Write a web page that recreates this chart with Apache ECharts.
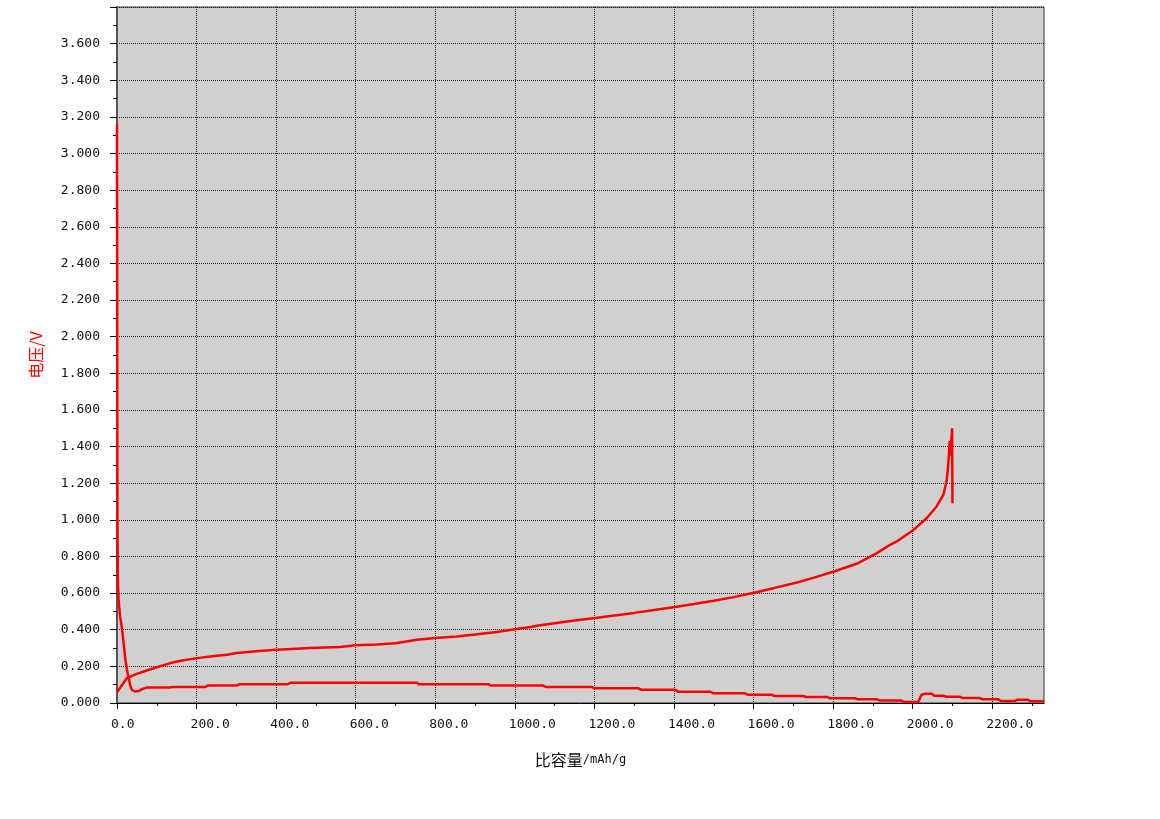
<!DOCTYPE html>
<html>
<head>
<meta charset="utf-8">
<script src="https://cdn.jsdelivr.net/npm/echarts@6/dist/echarts.min.js"></script>
<style>
html,body{margin:0;padding:0;background:#fff;}
#c{width:1160px;height:819px;}
</style>
</head>
<body>
<div id="c"></div>
<script>
// tick values
const xMajorTicks = [0,200,400,600,800,1000,1200,1400,1600,1800,2000,2200];
const xMinorTicks = [100,300,500,700,900,1100,1300,1500,1700,1900,2100,2300];

// discharge curve (capacity mAh/g, voltage V)
const dischargeX = [0,1,2,4,8,13,17,21,25,29,34,38,45,55,62,75,134,140,222,228,301,308,429,436,754,760,934,940,1071,1078,1193,1200,1311,1318,1403,1410,1491,1498,1579,1586,1646,1653,1725,1732,1784,1791,1855,1862,1910,1917,1972,1979,2014,2022,2030,2048,2054,2077,2084,2119,2126,2169,2176,2215,2222,2257,2263,2290,2296,2330];
const dischargeY = [3.16,1.05,0.69,0.56,0.47,0.40,0.32,0.24,0.18,0.14,0.09,0.07,0.063,0.065,0.075,0.084,0.085,0.088,0.088,0.095,0.095,0.103,0.103,0.110,0.110,0.102,0.102,0.095,0.095,0.088,0.088,0.080,0.080,0.072,0.072,0.062,0.062,0.053,0.053,0.045,0.045,0.038,0.038,0.033,0.033,0.026,0.026,0.020,0.020,0.013,0.013,0.006,0.006,0.045,0.050,0.050,0.040,0.040,0.034,0.034,0.027,0.027,0.020,0.020,0.011,0.011,0.018,0.018,0.009,0.009];

// charge curve
const chargeX = [0,10,25,45,67,100,134,160,201,240,276,301,350,400,486,561,600,653,700,754,800,854,900,955,1000,1039,1064,1100,1150,1202,1250,1300,1350,1403,1450,1500,1550,1604,1650,1709,1750,1802,1859,1910,1943,1960,2002,2035,2060,2077,2085,2089,2093,2095,2099,2100];
const chargeY = [0.058,0.09,0.136,0.155,0.172,0.195,0.218,0.231,0.245,0.255,0.263,0.273,0.282,0.291,0.300,0.306,0.315,0.320,0.326,0.345,0.355,0.363,0.374,0.388,0.403,0.415,0.425,0.435,0.450,0.464,0.478,0.492,0.508,0.524,0.540,0.558,0.578,0.603,0.627,0.658,0.683,0.718,0.760,0.818,0.864,0.882,0.945,1.009,1.073,1.136,1.209,1.290,1.430,1.350,1.500,1.090];

const zip = (xs, ys) => xs.map((x, i) => [x, ys[i]]);
const monoFont = '"DejaVu Sans Mono", monospace';

const chart = echarts.init(document.getElementById('c'), null, {renderer: 'canvas'});
chart.setOption({
  animation: false,
  backgroundColor: '#ffffff',
  grid: {
    left: 117, right: 116, top: 7, bottom: 116,
    show: true, backgroundColor: '#d0d0d0', borderColor: '#333', borderWidth: 1
  },
  xAxis: [{
    type: 'value', min: 0, max: 2330, interval: 200,
    name: '{a|比容量}{b|/mAh/g}',
    nameLocation: 'middle', nameGap: 49,
    nameTextStyle: {
      rich: {
        a: {fontFamily: '"Noto Sans CJK SC"', fontSize: 16, color: '#111'},
        b: {fontFamily: monoFont, fontSize: 12, color: '#111'}
      }
    },
    axisLine: {show: true, onZero: false, lineStyle: {color: '#000', width: 1}},
    axisTick: {show: true, length: 6, customValues: xMajorTicks, lineStyle: {color: '#000'}},
    minorTick: {show: false},
    axisLabel: {
      customValues: xMajorTicks, align: 'left', padding: [0,0,0,-6], margin: 15,
      fontFamily: monoFont, fontSize: 13, color: '#111',
      formatter: v => v.toFixed(1)
    },
    splitLine: {show: true, lineStyle: {color: '#222', type: 'dotted', width: 1}}
  }, {
    type: 'value', min: 0, max: 2330, position: 'bottom',
    axisLine: {show: false},
    axisTick: {show: true, length: 3, customValues: xMinorTicks, lineStyle: {color: '#000'}},
    axisLabel: {show: false},
    splitLine: {show: false}
  }],
  yAxis: [{
    type: 'value', min: 0, max: 3.8, interval: 0.2,
    name: '电压/V', nameLocation: 'middle', nameGap: 73,
    nameTextStyle: {fontFamily: '"Noto Sans CJK SC"', fontSize: 16, color: '#ff0000'},
    axisLine: {show: true, onZero: false, lineStyle: {color: '#000', width: 1}},
    axisTick: {show: true, length: 7, lineStyle: {color: '#000'}},
    minorTick: {show: true, splitNumber: 2, length: 4, lineStyle: {color: '#000'}},
    axisLabel: {
      showMaxLabel: false, margin: 17,
      fontFamily: monoFont, fontSize: 13, color: '#111',
      formatter: v => v.toFixed(3)
    },
    splitLine: {show: true, lineStyle: {color: '#222', type: 'dotted', width: 1}}
  }, {
    type: 'value', min: 0, max: 3.8, position: 'right',
    axisLine: {show: true, lineStyle: {color: '#555', width: 2}},
    axisTick: {show: false}, axisLabel: {show: false}, splitLine: {show: false}
  }],
  series: [{
    name: 'discharge', type: 'line', xAxisIndex: 0, yAxisIndex: 0,
    data: zip(dischargeX, dischargeY), showSymbol: false, clip: true,
    lineStyle: {color: '#ff0000', width: 2.5}
  }, {
    name: 'charge', type: 'line', xAxisIndex: 0, yAxisIndex: 0,
    data: zip(chargeX, chargeY), showSymbol: false, clip: true,
    lineStyle: {color: '#ff0000', width: 2.5}
  }]
});
</script>
</body>
</html>
